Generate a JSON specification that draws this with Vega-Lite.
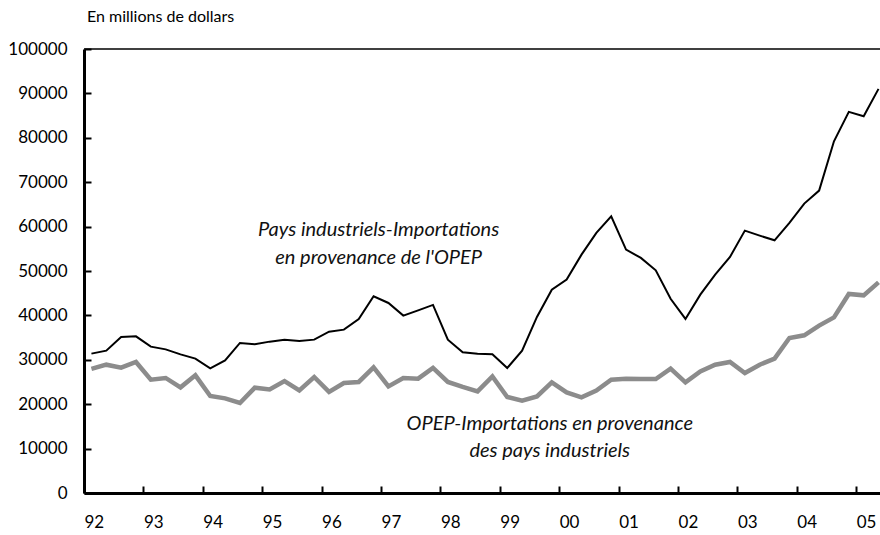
{
  "$schema": "https://vega.github.io/schema/vega-lite/v6.json",
  "autosize": {"type": "none"},
  "padding": {"left": 84, "top": 49, "right": 0, "bottom": 42},
  "width": 796,
  "height": 444,
  "background": "white",
  "title": {"text": "En millions de dollars", "anchor": "start", "frame": "group", "font": "Lato", "fontSize": 16, "fontWeight": "normal", "color": "#000000", "baseline": "alphabetic", "offset": 2, "dx": 3},
  "datasets": {
    "series": [
      {"t": 1992.125, "pays": 31390, "opep": 27940},
      {"t": 1992.375, "pays": 32060, "opep": 28900},
      {"t": 1992.625, "pays": 35150, "opep": 28230},
      {"t": 1992.875, "pays": 35280, "opep": 29510},
      {"t": 1993.125, "pays": 32960, "opep": 25530},
      {"t": 1993.375, "pays": 32350, "opep": 25910},
      {"t": 1993.625, "pays": 31230, "opep": 23790},
      {"t": 1993.875, "pays": 30260, "opep": 26500},
      {"t": 1994.125, "pays": 28070, "opep": 21850},
      {"t": 1994.375, "pays": 29870, "opep": 21310},
      {"t": 1994.625, "pays": 33790, "opep": 20280},
      {"t": 1994.875, "pays": 33480, "opep": 23720},
      {"t": 1995.125, "pays": 34090, "opep": 23340},
      {"t": 1995.375, "pays": 34540, "opep": 25200},
      {"t": 1995.625, "pays": 34240, "opep": 23120},
      {"t": 1995.875, "pays": 34540, "opep": 26130},
      {"t": 1996.125, "pays": 36340, "opep": 22760},
      {"t": 1996.375, "pays": 36790, "opep": 24780},
      {"t": 1996.625, "pays": 39200, "opep": 25010},
      {"t": 1996.875, "pays": 44300, "opep": 28300},
      {"t": 1997.125, "pays": 42800, "opep": 24020},
      {"t": 1997.375, "pays": 39950, "opep": 25910},
      {"t": 1997.625, "pays": 41140, "opep": 25750},
      {"t": 1997.875, "pays": 42360, "opep": 28160},
      {"t": 1998.125, "pays": 34540, "opep": 25010},
      {"t": 1998.375, "pays": 31680, "opep": 23880},
      {"t": 1998.625, "pays": 31350, "opep": 22890},
      {"t": 1998.875, "pays": 31230, "opep": 26270},
      {"t": 1999.125, "pays": 28160, "opep": 21630},
      {"t": 1999.375, "pays": 32060, "opep": 20800},
      {"t": 1999.625, "pays": 39650, "opep": 21760},
      {"t": 1999.875, "pays": 45800, "opep": 24920},
      {"t": 2000.125, "pays": 48060, "opep": 22670},
      {"t": 2000.375, "pays": 53690, "opep": 21540},
      {"t": 2000.625, "pays": 58580, "opep": 23050},
      {"t": 2000.875, "pays": 62320, "opep": 25530},
      {"t": 2001.125, "pays": 54810, "opep": 25750},
      {"t": 2001.375, "pays": 52950, "opep": 25680},
      {"t": 2001.625, "pays": 50150, "opep": 25680},
      {"t": 2001.875, "pays": 43750, "opep": 28000},
      {"t": 2002.125, "pays": 39200, "opep": 24920},
      {"t": 2002.375, "pays": 44680, "opep": 27400},
      {"t": 2002.625, "pays": 49180, "opep": 28900},
      {"t": 2002.875, "pays": 53170, "opep": 29510},
      {"t": 2003.125, "pays": 59100, "opep": 27030},
      {"t": 2003.375, "pays": 57970, "opep": 28900},
      {"t": 2003.625, "pays": 56910, "opep": 30260},
      {"t": 2003.875, "pays": 60830, "opep": 34920},
      {"t": 2004.125, "pays": 65180, "opep": 35510},
      {"t": 2004.375, "pays": 68110, "opep": 37690},
      {"t": 2004.625, "pays": 79220, "opep": 39560},
      {"t": 2004.875, "pays": 85840, "opep": 44830},
      {"t": 2005.125, "pays": 84850, "opep": 44520},
      {"t": 2005.375, "pays": 91020, "opep": 47450}
    ],
    "notes": [
      {"t": 1996.96, "v": 57790, "label": "Pays industriels-Importations"},
      {"t": 1996.96, "v": 51640, "label": "en provenance de l'OPEP"},
      {"t": 1999.84, "v": 14100, "label": "OPEP-Importations en provenance"},
      {"t": 1999.84, "v": 8020, "label": "des pays industriels"}
    ]
  },
  "layer": [
    {
      "data": {"name": "series"},
      "mark": {"type": "line", "color": "#8c8c8c", "strokeWidth": 4.5, "strokeJoin": "miter"},
      "encoding": {
        "x": {"field": "t", "type": "quantitative", "scale": {"domain": [1992, 2005.4], "nice": false, "zero": false},
          "axis": {"values": [1992, 1993, 1994, 1995, 1996, 1997, 1998, 1999, 2000, 2001, 2002, 2003, 2004, 2005], "labelExpr": "substring(toString(datum.value), 2)", "labelAlign": "left", "labelPadding": 28, "title": null}},
        "y": {"field": "opep", "type": "quantitative", "scale": {"domain": [0, 100000], "nice": false},
          "axis": {"values": [0, 10000, 20000, 30000, 40000, 50000, 60000, 70000, 80000, 90000, 100000], "format": "d", "labelPadding": 24, "title": null}}
      }
    },
    {
      "data": {"name": "series"},
      "mark": {"type": "line", "color": "#000000", "strokeWidth": 2, "strokeJoin": "miter"},
      "encoding": {
        "x": {"field": "t", "type": "quantitative"},
        "y": {"field": "pays", "type": "quantitative"}
      }
    },
    {
      "data": {"name": "notes"},
      "mark": {"type": "text", "font": "Lato", "fontStyle": "italic", "fontSize": 20, "align": "center", "baseline": "alphabetic", "color": "#111111"},
      "encoding": {
        "x": {"field": "t", "type": "quantitative"},
        "y": {"field": "v", "type": "quantitative"},
        "text": {"field": "label"}
      }
    },
    {
      "data": {"values": [{"v": 100000}]},
      "mark": {"type": "rule", "color": "#000000", "strokeWidth": 1.7},
      "encoding": {"y": {"field": "v", "type": "quantitative"}}
    }
  ],
  "config": {
    "view": {"stroke": null},
    "axis": {
      "grid": false,
      "domainColor": "#000000",
      "domainWidth": 3,
      "tickColor": "#000000",
      "tickWidth": 2,
      "tickSize": -7,
      "labelFont": "Lato",
      "labelFontSize": 17,
      "labelColor": "#000000",
      "labelOverlap": false,
      "labelFlush": false
    }
  }
}
